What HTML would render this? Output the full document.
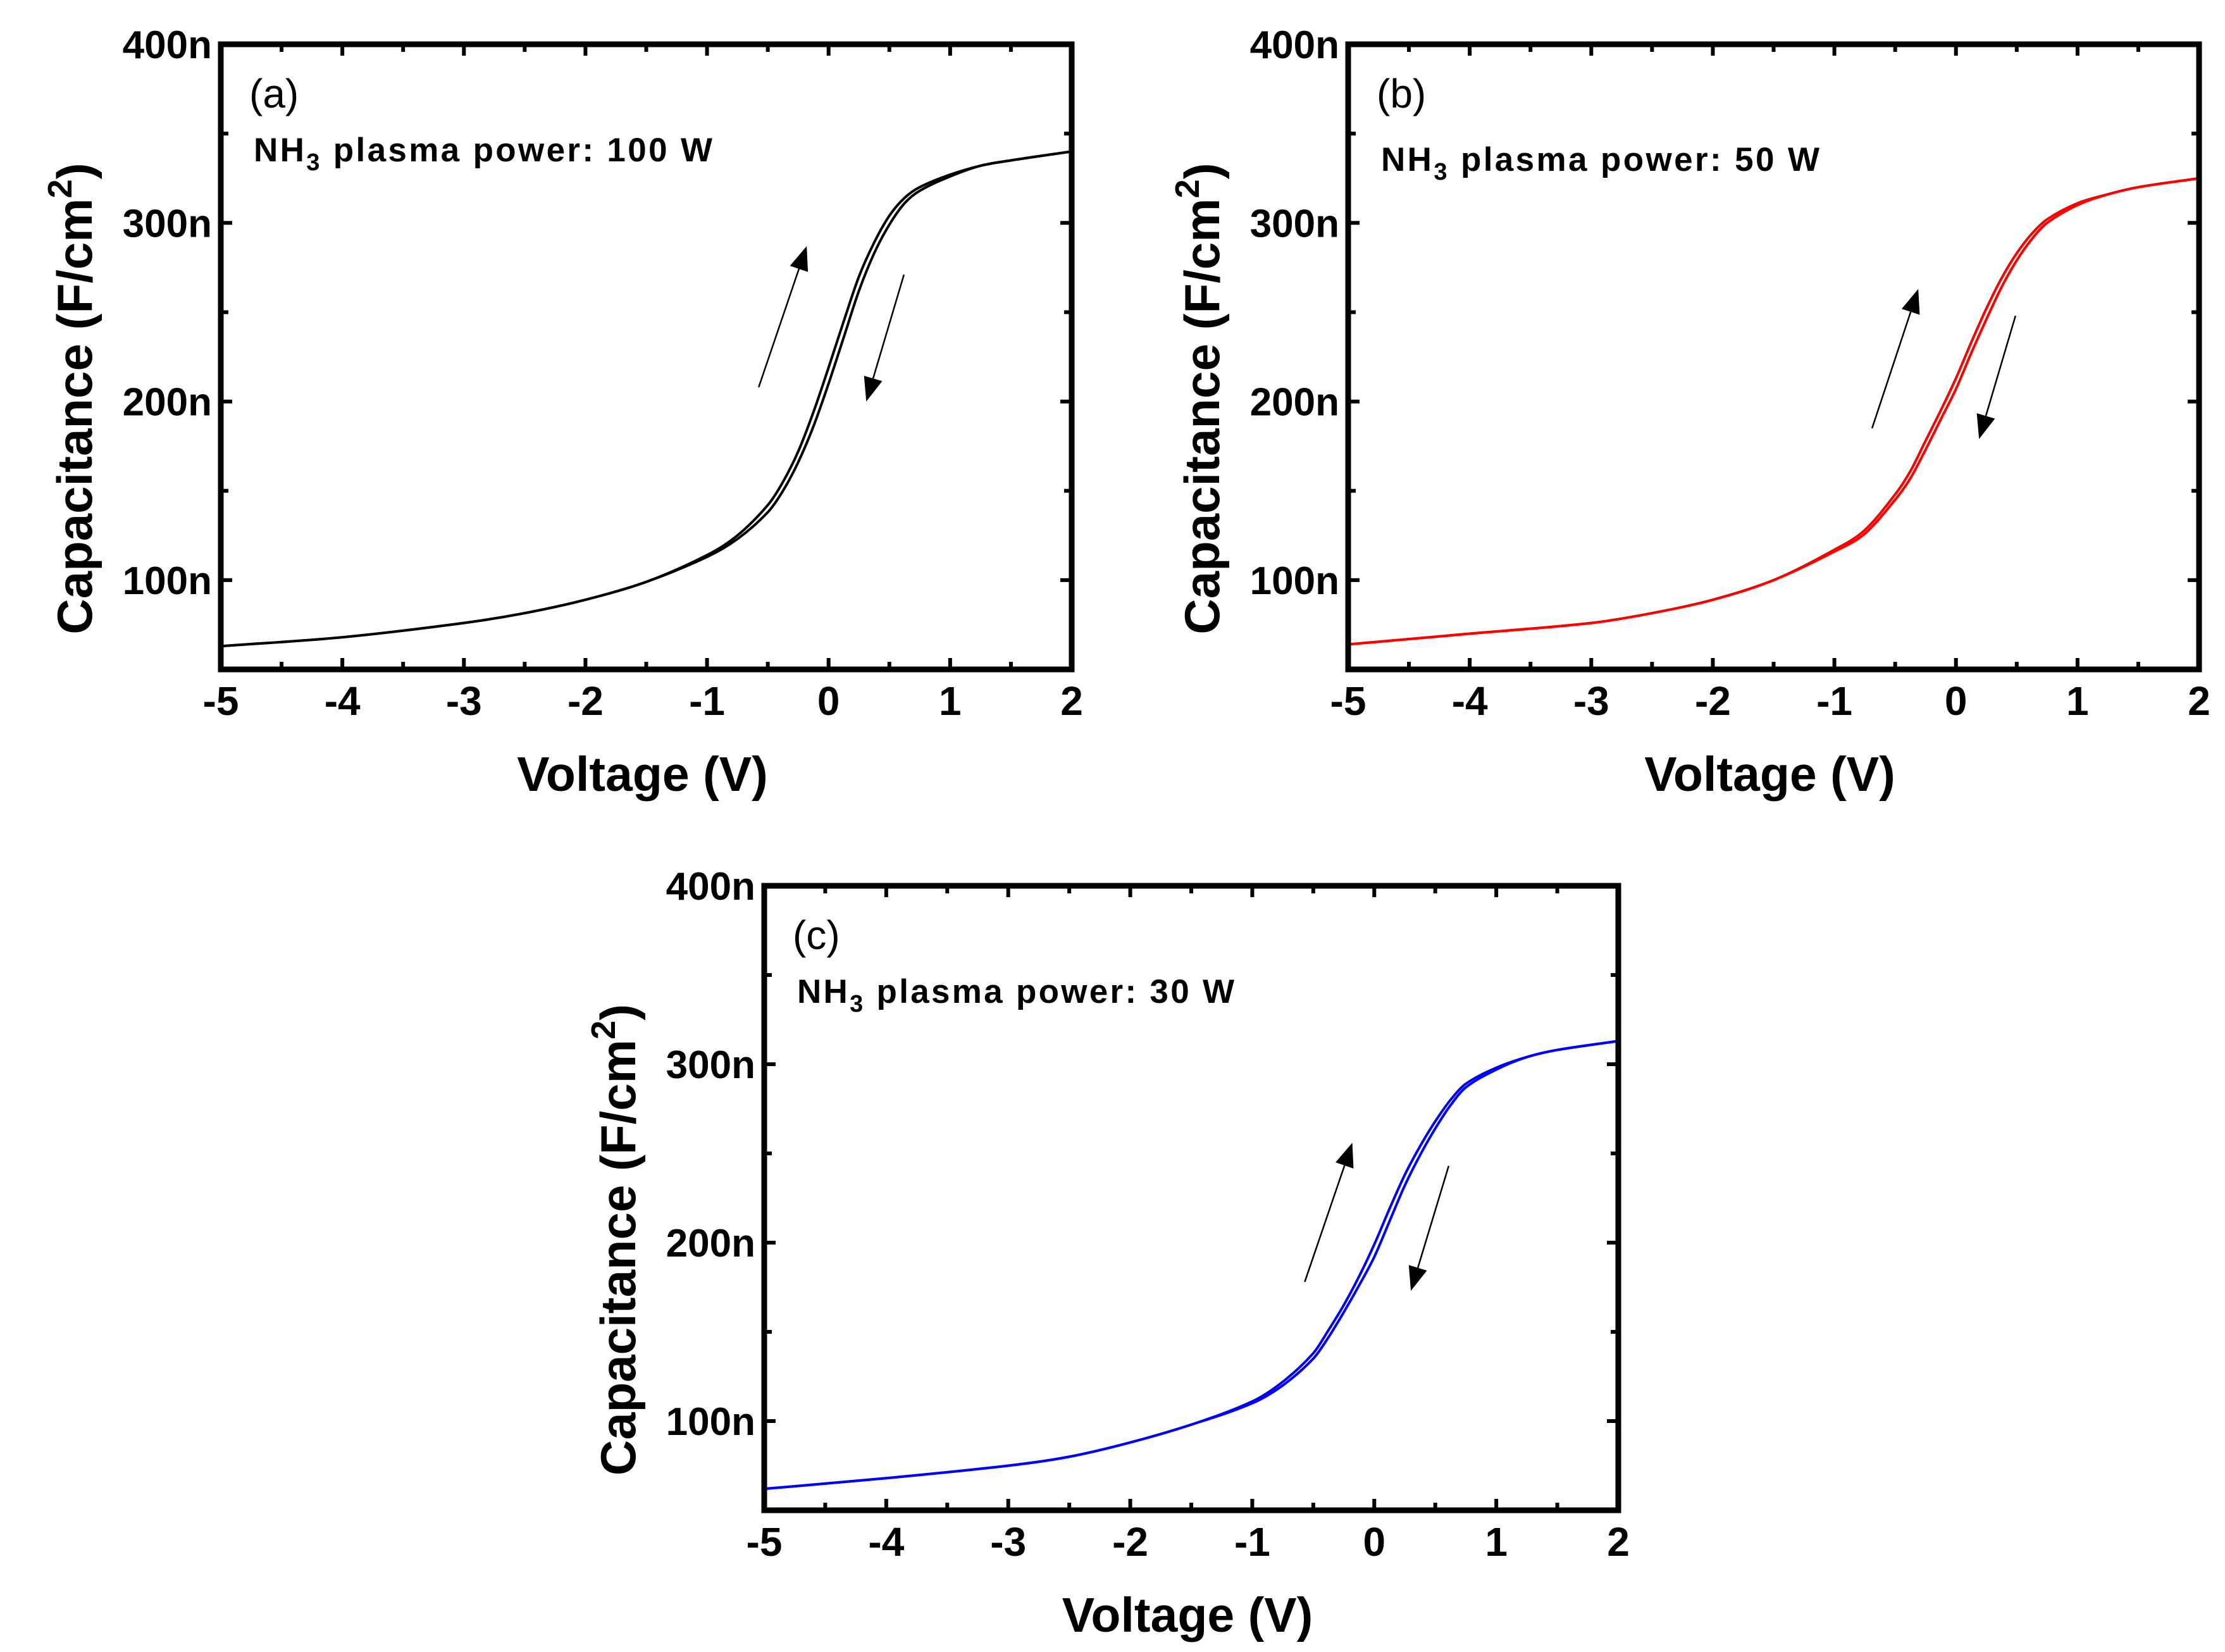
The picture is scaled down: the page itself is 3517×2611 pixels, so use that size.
<!DOCTYPE html>
<html><head><meta charset="utf-8"><style>
html,body{margin:0;padding:0;background:#fff;}
svg{display:block;}
text{font-family:"Liberation Sans Narrow","Liberation Sans",sans-serif;font-weight:bold;fill:#000;}
.title{font-family:"Liberation Sans",sans-serif;}
</style></head><body>
<svg id="fig" width="3517" height="2611" viewBox="0 0 3517 2611" xmlns="http://www.w3.org/2000/svg"></svg>
<script>
const volt=[-5,-4,-3,-2.5,-2,-1.5,-1,-0.75,-0.5,-0.375,-0.25,-0.125,0,0.125,0.25,0.375,0.5,0.625,0.75,1,1.25,1.5,2];
const capA_fwd=[63,68,76,81.5,89,99,114,125,142,155,172,194,219,245,270,289,304,314,320,327,332,335,340];
const capA_rev=[63,68,76,81.5,89,99,113,123,138,150,166,186,210,236,262,283,299,311,318,326,332,335,340];
const capB_fwd=[64,70,76,81.5,89,100,117,128,148,161,178,195,213,233,252,269,283,294,302,311,316,320,325];
const capB_rev=[64,70,76,81.5,89,100,116,126,145,157,173,190,207,227,246,264,279,291,300,310,316,320,325];
const capC_fwd=[62,68,75,80,88,98,111,122,138,151,165,181,199,219,238,254,268,280,289,298,304,308,313];
const capC_rev=[62,68,75,80,88,98,110,120,135,147,161,176,192,212,232,249,264,277,287,297,304,308,313];
const xTicks=[-5,-4,-3,-2,-1,0,1,2];
const yTicks=[100,200,300,400];
const yTickLabels=["100n","200n","300n","400n"];
const arrowUpA=[-0.575,208,-0.18,287], arrowDownA=[0.62,271,0.31,200];
const arrowUpB=[-0.69,185,-0.31,263], arrowDownB=[0.49,248,0.19,179];
const arrowUpC=[-0.57,178,-0.18,256], arrowDownC=[0.61,243,0.30,173];

const NS="http://www.w3.org/2000/svg";
const svg=document.getElementById('fig');
function mk(tag,attrs,parent){const e=document.createElementNS(NS,tag);for(const k in attrs)e.setAttribute(k,attrs[k]);(parent||svg).appendChild(e);return e;}
function path(pts){let d=`M${pts[0][0]},${pts[0][1]}`;for(let i=0;i<pts.length-1;i++){const p0=pts[i-1]||pts[i],p1=pts[i],p2=pts[i+1],p3=pts[i+2]||p2;
 const h=p2[0]-p1[0];
 const m1=(p2[1]-p0[1])/((p2[0]-p0[0])||1), m2=(p3[1]-p1[1])/((p3[0]-p1[0])||1);
 d+=` C${p1[0]+h/3},${p1[1]+m1*h/3} ${p2[0]-h/3},${p2[1]-m2*h/3} ${p2[0]},${p2[1]}`;}return d;}

function panel(id,L,R,T,B,color,fwd,rev,label,power,annW,aUp,aDn){
 const g=mk('g',{});
 
 
 const X=v=>L+(v+5)/7*(R-L), Y=c=>B-(c-50)/350*(B-T);
 for(let v=-5;v<=2.001;v+=0.5){const maj=Math.abs(v-Math.round(v))<1e-6;const len=maj?18:12;
  mk('line',{x1:X(v),x2:X(v),y1:B,y2:B-len,stroke:'#000','stroke-width':6},g);
  mk('line',{x1:X(v),x2:X(v),y1:T,y2:T+len,stroke:'#000','stroke-width':6},g);}
 for(let c=50;c<=400;c+=50){const maj=c%100===0;const len=maj?18:12;
  mk('line',{x1:L,x2:L+len,y1:Y(c),y2:Y(c),stroke:'#000','stroke-width':6},g);
  mk('line',{x1:R,x2:R-len,y1:Y(c),y2:Y(c),stroke:'#000','stroke-width':6},g);}
 xTicks.forEach(v=>{const t=mk('text',{x:X(v),y:B+72,'text-anchor':'middle','font-size':64},g);t.textContent=String(v);
  
  });
 yTicks.forEach((c,i)=>{const t=mk('text',{x:L-14,y:Y(c)+22,'text-anchor':'end','font-size':62},g);t.textContent=yTickLabels[i];
  
  });
 [fwd,rev].forEach((arr,k)=>{const p=mk('path',{d:path(volt.map((v,i)=>[X(v),Y(arr[i])])),fill:'none',stroke:color,'stroke-width':4},g);
  
  });
 [aUp,aDn].forEach((a,k)=>{const x1=X(a[0]),y1=Y(a[1]),x2=X(a[2]),y2=Y(a[3]);const ang=Math.atan2(y2-y1,x2-x1);const hl=38,hw=15;
  const bx=x2-hl*Math.cos(ang),by=y2-hl*Math.sin(ang);
  const ln=mk('line',{x1,y1,x2:bx,y2:by,stroke:'#000','stroke-width':2.5},g);
  
  
  mk('polygon',{points:`${x2},${y2} ${bx-hw*Math.sin(ang)},${by+hw*Math.cos(ang)} ${bx+hw*Math.sin(ang)},${by-hw*Math.cos(ang)}`,fill:'#000'},g);});
 const fr=mk('rect',{x:L,y:T,width:R-L,height:B-T,fill:'none',stroke:'#000','stroke-width':9},g);
 
 
 const lb=mk('text',{x:L+45,y:T+100,'font-size':64,style:'font-weight:normal'},g);lb.textContent='('+label+')';
 
 
 const an=mk('text',{x:L+52,y:T+(id==='b'?200:185),'font-size':53,textLength:annW,lengthAdjust:'spacing'},g);
 an.innerHTML='NH<tspan font-size="38" dy="14">3</tspan><tspan dy="-14"> plasma power: '+power+' W</tspan>';
 
 
 const xt=mk('text',{class:'title',x:(L+R)/2-6,y:B+192,'text-anchor':'middle','font-size':77},g);xt.textContent='Voltage (V)';
 
 
 const cx=L-204,cy=(T+B)/2+66;
 const yt=mk('text',{class:'title',x:cx,y:cy,'text-anchor':'middle','font-size':78,transform:`rotate(-90 ${cx} ${cy})`},g);
 yt.innerHTML='Capacitance (F/cm<tspan font-size="54" dy="-32">2</tspan><tspan dy="32">)</tspan>';
 
 
}
panel('a',349,1694,70,1058,'#000',capA_fwd,capA_rev,'a','100',725,arrowUpA,arrowDownA);
panel('b',2131,3476,70,1058,'#ff0000',capB_fwd,capB_rev,'b','50',693,arrowUpB,arrowDownB);
panel('c',1208,2558,1400,2387,'#0000ff',capC_fwd,capC_rev,'c','30',691,arrowUpC,arrowDownC);
</script>
</body></html>
